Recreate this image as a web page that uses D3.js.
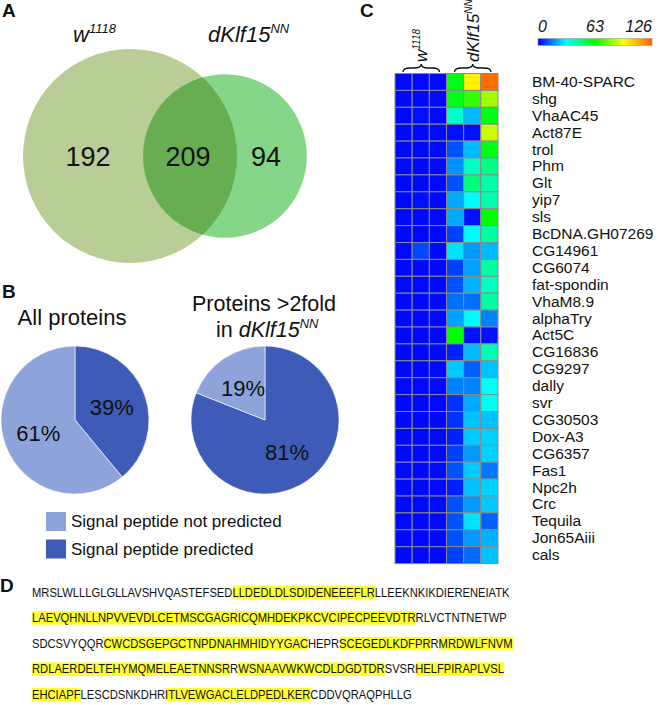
<!DOCTYPE html>
<html><head><meta charset="utf-8">
<script src="https://cdn.jsdelivr.net/npm/d3@7"></script>
<style>body{margin:0;background:#fff}svg{display:block}text{font-family:Arial,"Liberation Sans",sans-serif;fill:#111}</style>
</head><body><svg id="c" width="666" height="705"></svg>
<script>
// ---------------- DATA ----------------
const vennSets = ["w1118", "dKlf15NN"];
const vennOnlyLeft = 192, vennBoth = 209, vennOnlyRight = 94;

const pieCategories = ["Signal peptide predicted", "Signal peptide not predicted"];
const pieAllProteins = [39, 61];
const pieUpProteins = [81, 19];

const genes = ["BM-40-SPARC","shg","VhaAC45","Act87E","trol","Phm","Glt","yip7","sls","BcDNA.GH07269",
  "CG14961","CG6074","fat-spondin","VhaM8.9","alphaTry","Act5C","CG16836","CG9297","dally","svr",
  "CG30503","Dox-A3","CG6357","Fas1","Npc2h","Crc","Tequila","Jon65Aiii","cals"];
const heatColumns = ["w1118 1","w1118 2","w1118 3","dKlf15NN 1","dKlf15NN 2","dKlf15NN 3"];
const heatW1118 = [
  [1,1,1],[1,1,1],[1,2,1],[1,1,1],[1,1,1],[1,1,1],[1,1,1],[1,2,1],[1,1,1],[1,1,1],
  [1,9,1],[1,1,1],[1,1,1],[1,1,1],[1,1,1],[1,1,1],[1,1,1],[1,1,1],[1,1,1],[1,1,1],
  [1,1,1],[1,1,1],[1,1,1],[1,1,1],[1,1,1],[1,1,1],[1,1,1],[1,1,1],[1,1,1]];
const heatKlf15 = [
  [60,97,124],[60,69,83],[38,23,60],[2,2,88],[10,23,60],[18,39,47],[10,48,42],[21,31,42],[21,2,63],[8,31,43],
  [28,19,23],[8,20,43],[10,22,39],[14,14,43],[20,31,16],[63,2,2],[4,23,41],[25,12,24],[16,16,32],[6,21,33],
  [6,24,24],[4,25,26],[8,19,26],[10,25,15],[4,24,26],[10,19,25],[10,28,12],[10,19,22],[8,13,24]];
const colorTicks = [0, 63, 126];

const seqLines = [
  [["MRSLWLLLGLGLLAVSHVQASTEFSED",0],["LLDEDLDLSDIDENEEEFLR",1],["LLEEKNKIKDIERENEIATK",0]],
  [["LAEVQHNLLNPVVEVDLCETMSCGAGRICQMHDEKPKCVCIPECPEEVDTR",1],["RLVCTNTNETWP",0]],
  [["SDCSVYQQR",0],["CWCDSGEPGCTNPDNAHMHIDYYGAC",1],["HEPR",0],["SCEGEDLKDFPR",1],["R",0],["MRDWLFNVM",1]],
  [["RDLAERDELTEHYMQMELEAETNNSR",1],["R",0],["WSNAAVWKWCDLDGDTDR",1],["SVSR",0],["HELFPIRAPLVSL",1]],
  [["EHCIAPF",1],["LESCDSNKDHR",0],["ITLVEWGACLELDPEDLKER",1],["CDDVQRAQPHLLG",0]]
];

// ---------------- DRAW ----------------
const svg = d3.select("#c");
svg.append("rect").attr("width",666).attr("height",705).attr("fill","#fff");

function panelLabel(t, x, y){
  svg.append("text").attr("x",x).attr("y",y).attr("font-size",19).attr("font-weight","bold").text(t);
}
panelLabel("A",2,17); panelLabel("B",2,298); panelLabel("C",360,17); panelLabel("D",0,592);

function supText(parent, x, y, base, sup, size, supSize, anchor){
  const t = parent.append("text").attr("x",x).attr("y",y).attr("font-size",size)
    .attr("text-anchor",anchor||"start").attr("font-style","italic");
  t.append("tspan").text(base);
  t.append("tspan").attr("font-size",supSize).attr("dy",-size*0.42).text(sup);
  return t;
}

// ---- Panel A: Venn ----
const rScale = d3.scaleLinear().domain([0, vennOnlyLeft+vennBoth]).range([0,107]);
const vennCircles = [
  {cx:130, cy:156, r:rScale(vennOnlyLeft+vennBoth), fill:"#b9ce96"},
  {cx:225, cy:156, r:rScale(vennBoth+vennOnlyRight)+1, fill:"#85d689"}
];
const defs = svg.append("defs");
defs.append("clipPath").attr("id","clipL").append("circle")
  .attr("cx",vennCircles[0].cx).attr("cy",vennCircles[0].cy).attr("r",vennCircles[0].r);
const vg = svg.append("g");
vg.selectAll("circle.v").data(vennCircles).join("circle").attr("class","v")
  .attr("cx",d=>d.cx).attr("cy",d=>d.cy).attr("r",d=>d.r).attr("fill",d=>d.fill);
vg.append("circle").attr("clip-path","url(#clipL)")
  .attr("cx",vennCircles[1].cx).attr("cy",vennCircles[1].cy).attr("r",vennCircles[1].r).attr("fill","#67ad52");
const vennNums = [{v:vennOnlyLeft,x:88},{v:vennBoth,x:188},{v:vennOnlyRight,x:266}];
vg.selectAll("text.n").data(vennNums).join("text").attr("class","n")
  .attr("x",d=>d.x).attr("y",166).attr("text-anchor","middle").attr("font-size",27).text(d=>d.v);
supText(vg, 73, 42, "w", "1118", 22, 13, "start");
supText(vg, 208, 42, "dKlf15", "NN", 22, 13, "start");

// ---- Panel B: pies ----
const pieColors = d3.scaleOrdinal().domain(pieCategories).range(["#3f5bb8","#8fa3db"]);
const pie = d3.pie().sort(null).value(d=>d.v);
const pies = [
  {cx:75, cy:420, data: pieAllProteins},
  {cx:265, cy:420, data: pieUpProteins}
];
const arc = d3.arc().innerRadius(0).outerRadius(74);
const labelArc = d3.arc().innerRadius(39).outerRadius(39);
pies.forEach(p=>{
  const g = svg.append("g").attr("transform",`translate(${p.cx},${p.cy})`);
  const arcs = pie(p.data.map((v,i)=>({v, c:pieCategories[i]})));
  g.selectAll("path").data(arcs).join("path").attr("d",arc).attr("fill",d=>pieColors(d.data.c))
    .attr("stroke","#fff").attr("stroke-width",0.6);
  g.selectAll("text").data(arcs).join("text")
    .attr("transform",d=>{const c=labelArc.centroid(d);return `translate(${c[0]},${c[1]+8})`;})
    .attr("text-anchor","middle").attr("font-size",22).text(d=>d.data.v+"%");
});
svg.append("text").attr("x",72).attr("y",325).attr("text-anchor","middle").attr("font-size",22).text("All proteins");
svg.append("text").attr("x",192).attr("y",311).attr("font-size",21.5).text("Proteins >2fold");
{
  const t = svg.append("text").attr("x",216).attr("y",337).attr("font-size",21.5);
  t.append("tspan").text("in ");
  t.append("tspan").attr("font-style","italic").text("dKlf15");
  t.append("tspan").attr("font-style","italic").attr("font-size",13).attr("dy",-9).text("NN");
}
const legendItems = [pieCategories[1], pieCategories[0]];
const lg = svg.append("g");
lg.selectAll("rect").data(legendItems).join("rect")
  .attr("x",46).attr("y",(d,i)=>512+i*27.5).attr("width",20).attr("height",19).attr("fill",d=>pieColors(d));
lg.selectAll("text").data(legendItems).join("text")
  .attr("x",71).attr("y",(d,i)=>527+i*28).attr("font-size",17).text(d=>d);

// ---- Panel C: heatmap ----
const heatRows = genes.map((g,i)=>({gene:g, vals: heatW1118[i].concat(heatKlf15[i])}));
const cells = [];
heatRows.forEach(r=>r.vals.forEach((v,j)=>cells.push({gene:r.gene, col:heatColumns[j], v})));
const xH = d3.scaleBand().domain(heatColumns).range([395,498]);
const yH = d3.scaleBand().domain(genes).range([73.5, 73.5+29*16.9]);
const color = d3.scaleLinear().domain([0,31.5,63,94.5,126])
  .range(["#0000ff","#00ffff","#00ff00","#ffff00","#ff6000"]).clamp(true);
const hg = svg.append("g");
hg.selectAll("rect").data(cells).join("rect")
  .attr("x",d=>xH(d.col)).attr("y",d=>yH(d.gene)).attr("width",xH.bandwidth()).attr("height",yH.bandwidth())
  .attr("fill",d=>color(d.v)).attr("stroke","#8a8a8a").attr("stroke-width",1);
hg.selectAll("text").data(genes).join("text")
  .attr("x",532).attr("y",d=>yH(d)+yH.bandwidth()/2+5).attr("font-size",15.5).text(d=>d);

// braces
function brace(x1,x2,y,h){
  const m=(x1+x2)/2, q=h*0.9;
  return `M${x1},${y} Q${x1},${y-h/2} ${x1+q},${y-h/2} L${m-q},${y-h/2} Q${m},${y-h/2} ${m},${y-h} Q${m},${y-h/2} ${m+q},${y-h/2} L${x2-q},${y-h/2} Q${x2},${y-h/2} ${x2},${y}`;
}
const groups = [{cols:heatColumns.slice(0,3), base:"w", sup:"1118"},
                {cols:heatColumns.slice(3), base:"dKlf15", sup:"NN"}];
groups.forEach(gr=>{
  const x1 = xH(gr.cols[0])+8, x2 = xH(gr.cols[2])+xH.bandwidth()-7;
  svg.append("path").attr("d",brace(x1,x2,72,8)).attr("fill","none").attr("stroke","#111").attr("stroke-width",1.4);
  const cx = (x1+x2)/2 + 6;
  const t = svg.append("text").attr("transform",`translate(${cx},62) rotate(-90)`).attr("font-size",17).attr("font-style","italic");
  t.append("tspan").text(gr.base);
  t.append("tspan").attr("font-size",10).attr("dy",-7).text(gr.sup);
});

// colorbar
const cbX = d3.scaleLinear().domain([0,126]).range([538,652]);
const grad = defs.append("linearGradient").attr("id","cb");
d3.range(0,1.0001,0.05).forEach(t=>grad.append("stop").attr("offset",t).attr("stop-color",color(t*126)));
svg.append("rect").attr("x",cbX(0)).attr("y",38.5).attr("width",cbX(126)-cbX(0)).attr("height",7)
  .attr("fill","url(#cb)").attr("stroke","#999").attr("stroke-width",0.6);
svg.selectAll("text.cbt").data(colorTicks).join("text").attr("class","cbt")
  .attr("x",d=>cbX(d)).attr("y",32).attr("font-size",16).attr("font-style","italic")
  .attr("text-anchor",(d,i)=>i===0?"start":(i===colorTicks.length-1?"end":"middle")).text(d=>d);

// ---- Panel D: sequence ----
const seqBase = d3.scaleLinear().domain([0,4]).range([596.5,699]);
const sg = svg.append("g");
let scaleX = 1;
seqLines.forEach((line,i)=>{
  const g = sg.append("g").attr("class","seqline");
  const rects = g.append("g");
  const t = g.append("text").attr("x",0).attr("y",0).attr("font-size",13.5);
  t.selectAll("tspan").data(line).join("tspan").text(d=>d[0]);
  const node = t.node();
  let pos = 0;
  line.forEach(seg=>{
    const len = seg[0].length;
    const x0 = pos===0?0:node.getSubStringLength(0,pos);
    const x1 = node.getSubStringLength(0,pos+len);
    if(seg[1]) rects.append("rect").attr("x",x0).attr("y",-11).attr("width",x1-x0).attr("height",13.5).attr("fill","#ffff2e");
    pos += len;
  });
  if(i===0) scaleX = 478 / node.getComputedTextLength();
  g.attr("data-i",i);
});
sg.selectAll("g.seqline").attr("transform",function(){
  const i = +this.getAttribute("data-i");
  return `translate(32,${seqBase(i)}) scale(${scaleX},1)`;
});
</script></body></html>
